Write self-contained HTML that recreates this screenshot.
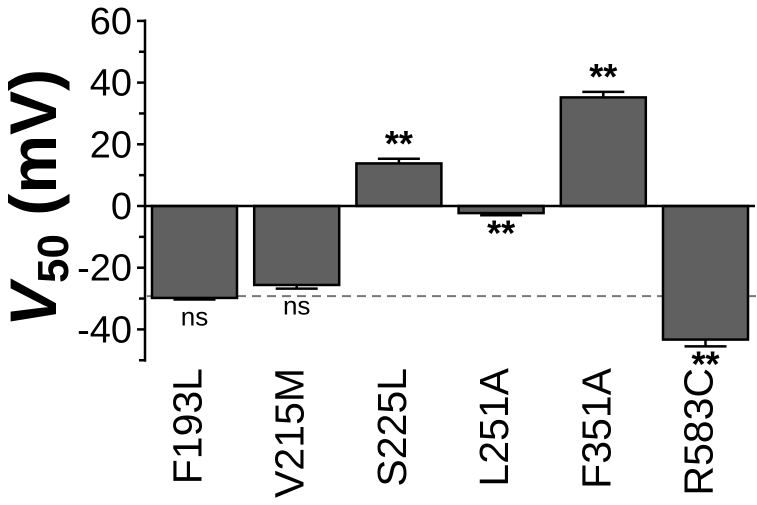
<!DOCTYPE html>
<html><head><meta charset="utf-8"><style>
html,body{margin:0;padding:0;background:#fff;}
svg{display:block;font-family:"Liberation Sans",Arial,sans-serif;}
</style></head><body>
<svg id="chart" width="757" height="505"></svg>
<script>
const categories=["F193L","V215M","S225L","L251A","F351A","R583C"];
const values=[-29.8,-25.6,13.8,-2.3,35.2,-43.3];
const errors=[0.5,1.2,1.5,0.7,1.8,2.2];
const significance=["ns","ns","**","**","**","**"];
const yTicks=[60,40,20,0,-20,-40];
const refValue=-29.2;
const ns="http://www.w3.org/2000/svg";
const svg=document.getElementById('chart');
const y0=206,k=3.085;
function yScale(v){return y0-v*k;}
const barLeft=152,barStep=102.2,barW=85;
function xScale(i){return barLeft+i*barStep;}
function el(t,a,p){const e=document.createElementNS(ns,t);for(const n in a)e.setAttribute(n,a[n]);(p||svg).appendChild(e);return e;}
const ax=el('line',{x1:145,x2:145,y1:yScale(60.5),y2:yScale(-50.5),stroke:'#000','stroke-width':2.5});


for(let v=60;v>=-50;v-=10){const t=el('line',{x1:v%20===0?137:139,x2:145,y1:yScale(v),y2:yScale(v),stroke:'#000','stroke-width':2.5});

}
yTicks.forEach(v=>{const t=el('text',{x:132,y:yScale(v)+13,'text-anchor':'end','font-size':38});t.textContent=v;

});
const yl=el('text',{transform:'translate(56,198) rotate(-90)','text-anchor':'middle','font-size':66,'font-weight':'bold'});
yl.innerHTML='<tspan font-style="italic">V</tspan><tspan font-size="44" dy="12">50</tspan><tspan dy="-12"> (mV)</tspan>';


const rl=el('line',{x1:147,x2:757,y1:yScale(refValue),y2:yScale(refValue),stroke:'#777','stroke-width':2,'stroke-dasharray':'9,6'});


categories.forEach((c,i)=>{
 const v=values[i],x=xScale(i),top=Math.min(yScale(v),y0),h=Math.abs(yScale(v)-y0);
 const r=el('rect',{x:x,y:top,width:barW,height:h,fill:'#606060',stroke:'#000','stroke-width':2.5});
 
 
 const cx=x+barW/2,ye=yScale(v+(v>=0?errors[i]:-errors[i]));
 const g=el('g',{stroke:'#000','stroke-width':2.5});
 
 
 el('line',{x1:cx,x2:cx,y1:yScale(v),y2:ye},g);
 el('line',{x1:cx-21,x2:cx+21,y1:ye,y2:ye},g);
 const s=significance[i];
 const sy=v>=0?ye-3:ye+(s==='ns'?26:30);
 const st=el('text',{x:cx,y:sy,'text-anchor':'middle','font-size':s==='ns'?26:36,'font-weight':s==='ns'?'normal':'bold'});
 st.textContent=s;
 
 
 const lt=el('text',{transform:`translate(${cx+7},368) rotate(-90)`,'text-anchor':'end','font-size':41});
 lt.textContent=c;
 
 
});
const zl=el('line',{x1:145,x2:755,y1:y0,y2:y0,stroke:'#000','stroke-width':2.5});


</script>
</body></html>
